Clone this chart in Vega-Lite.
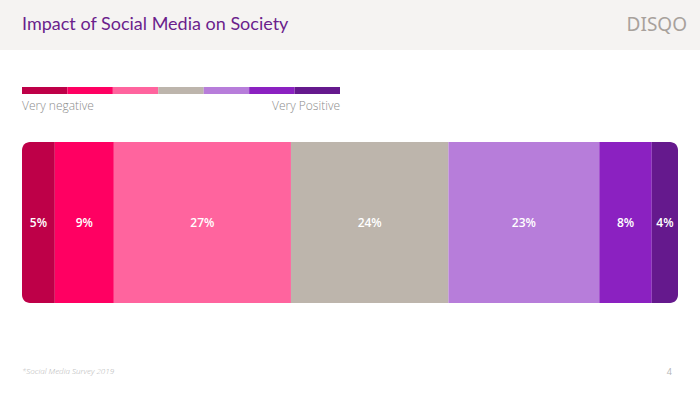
{
  "$schema": "https://vega.github.io/schema/vega-lite/v6.json",
  "padding": 0,
  "spacing": 0,
  "background": "white",
  "config": {"view": {"stroke": null}, "font": "Lato", "concat": {"spacing": 0}},
  "datasets": {
    "responses": [
      {"rating": "Very negative", "order": 1, "share": 0.05},
      {"rating": "Negative", "order": 2, "share": 0.09},
      {"rating": "Somewhat negative", "order": 3, "share": 0.27},
      {"rating": "Neutral", "order": 4, "share": 0.24},
      {"rating": "Somewhat positive", "order": 5, "share": 0.23},
      {"rating": "Positive", "order": 6, "share": 0.08},
      {"rating": "Very positive", "order": 7, "share": 0.04}
    ]
  },
  "vconcat": [
    {
      "width": 700,
      "height": 50,
      "view": {"fill": "#F5F3F2", "stroke": null},
      "data": {"values": [
        {"text": "Impact of Social Media on Society", "side": "left"},
        {"text": "DISQO", "side": "right"}
      ]},
      "encoding": {
        "x": {"field": "side", "type": "nominal", "scale": {"domain": ["left", "right"], "range": [22, 687], "padding": 0}, "axis": null},
        "text": {"field": "text"}
      },
      "layer": [
        {"transform": [{"filter": "datum.side === 'left'"}],
         "mark": {"type": "text", "align": "left", "baseline": "middle", "fontSize": 18, "color": "#6B1E8C", "font": "Lato"}},
        {"transform": [{"filter": "datum.side === 'right'"}],
         "mark": {"type": "text", "align": "right", "baseline": "middle", "fontSize": 19, "color": "#A8A19C", "letterSpacing": 4, "font": "Noto Sans", "fontWeight": "normal"}}
      ]
    },
    {
      "width": 700,
      "height": 81,
      "layer": [
        {
          "data": {"name": "responses"},
          "mark": {"type": "bar", "height": 7},
          "encoding": {
            "x": {"field": "rating", "type": "nominal", "axis": null,
                  "scale": {"domain": ["Very negative", "Negative", "Somewhat negative", "Neutral", "Somewhat positive", "Positive", "Very positive"], "range": [22, 340], "paddingInner": 0, "paddingOuter": 0}},
            "y": {"datum": "strip", "type": "nominal", "axis": null, "scale": {"paddingInner": 0, "paddingOuter": 0}},
            "color": {"field": "rating", "type": "nominal", "legend": null,
                      "scale": {"domain": ["Very negative", "Negative", "Somewhat negative", "Neutral", "Somewhat positive", "Positive", "Very positive"],
                                "range": ["#BE0048", "#FF0062", "#FF649E", "#BDB5AC", "#B77DDA", "#8B21C1", "#65198D"]}}
          }
        },
        {
          "data": {"values": [{"rating": "Very negative", "label": "Very negative"}]},
          "mark": {"type": "text", "align": "left", "baseline": "middle", "dy": 15, "fontSize": 12, "color": "#8C8C8C", "font": "Open Sans", "fontWeight": 300},
          "encoding": {
            "x": {"field": "rating", "type": "nominal", "bandPosition": 0},
            "text": {"field": "label"}
          }
        },
        {
          "data": {"values": [{"rating": "Very positive", "label": "Very Positive"}]},
          "mark": {"type": "text", "align": "right", "baseline": "middle", "dy": 15, "fontSize": 12, "color": "#8C8C8C", "font": "Open Sans", "fontWeight": 300},
          "encoding": {
            "x": {"field": "rating", "type": "nominal", "bandPosition": 1},
            "text": {"field": "label"}
          }
        }
      ]
    },
    {
      "width": 700,
      "height": 183,
      "data": {"name": "responses"},
      "encoding": {
        "x": {"field": "share", "type": "quantitative", "stack": "zero", "axis": null,
              "scale": {"domain": [0, 1], "range": [22, 678]}},
        "y": {"datum": "bar", "type": "nominal", "axis": null, "scale": {"paddingInner": 0, "paddingOuter": 0}},
        "order": {"field": "order", "type": "quantitative"}
      },
      "layer": [
        {
          "mark": {"type": "bar", "height": 161, "cornerRadius": 8},
          "encoding": {
            "color": {"field": "rating", "type": "nominal", "legend": null,
                      "scale": {"domain": ["Very negative", "Negative", "Somewhat negative", "Neutral", "Somewhat positive", "Positive", "Very positive"],
                                "range": ["#BE0048", "#FF0062", "#FF649E", "#BDB5AC", "#B77DDA", "#8B21C1", "#65198D"]}}
          }
        },
        {
          "mark": {"type": "text", "color": "white", "fontSize": 12, "fontWeight": 600, "baseline": "middle", "font": "Open Sans"},
          "encoding": {
            "x": {"field": "share", "type": "quantitative", "stack": "zero", "bandPosition": 0.5},
            "text": {"field": "share", "type": "quantitative", "format": ".0%"},
            "detail": {"field": "rating"}
          }
        }
      ]
    },
    {
      "width": 700,
      "height": 79,
      "data": {"values": [
        {"text": "*Social Media Survey 2019", "side": "left"},
        {"text": "4", "side": "right"}
      ]},
      "encoding": {
        "x": {"field": "side", "type": "nominal", "scale": {"domain": ["left", "right"], "range": [22, 672], "padding": 0}, "axis": null},
        "text": {"field": "text"}
      },
      "layer": [
        {"transform": [{"filter": "datum.side === 'left'"}],
         "mark": {"type": "text", "align": "left", "baseline": "middle", "dy": 18, "fontSize": 8, "fontStyle": "italic", "color": "#B5B5B5", "font": "Open Sans", "fontWeight": 300}},
        {"transform": [{"filter": "datum.side === 'right'"}],
         "mark": {"type": "text", "align": "right", "baseline": "middle", "dy": 18, "fontSize": 9, "color": "#B5B5B5", "font": "Open Sans"}}
      ]
    }
  ]
}
